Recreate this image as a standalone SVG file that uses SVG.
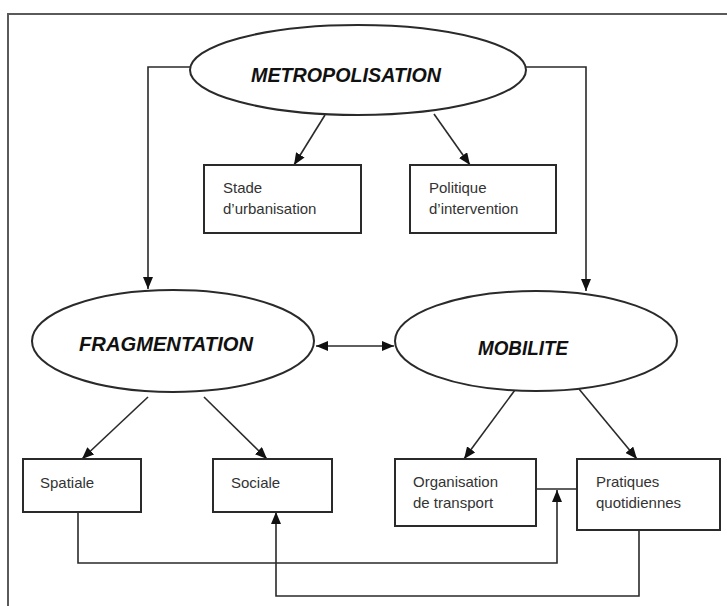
<svg xmlns="http://www.w3.org/2000/svg" width="727" height="606" viewBox="0 0 727 606">
<defs>
<style>
.node{fill:#fff;stroke:#2a2a2a;stroke-width:2}
.lbl{font-family:"Liberation Sans",Arial,sans-serif;font-size:15px;fill:#333}
.big{font-family:"Liberation Sans",Arial,sans-serif;font-size:20px;font-weight:bold;font-style:italic;fill:#111}
.con{fill:none;stroke:#2a2a2a;stroke-width:1.6}
.frame{fill:none;stroke:#5a5a5a;stroke-width:2}
</style>
<marker id="ah" markerUnits="userSpaceOnUse" markerWidth="12" markerHeight="10" refX="12" refY="5" orient="auto-start-reverse">
<path d="M0,0 L12,5 L0,10 z" fill="#111"/>
</marker>
</defs>
<rect width="727" height="606" fill="#fff"/>
<path class="frame" d="M8,606 L8,14 L727,14"/>
<g id="connectors">
<path class="con" d="M190,67 L148,67 L148,289" marker-end="url(#ah)"/>
<path class="con" d="M526,67 L586,67 L586,291" marker-end="url(#ah)"/>
<path class="con" d="M325,115 L294,165" marker-end="url(#ah)"/>
<path class="con" d="M434,114 L470,165" marker-end="url(#ah)"/>
<path class="con" d="M316,346 L394,346" marker-start="url(#ah)" marker-end="url(#ah)"/>
<path class="con" d="M148,397 L82,459" marker-end="url(#ah)"/>
<path class="con" d="M204,397 L267,459" marker-end="url(#ah)"/>
<path class="con" d="M515,390 L464,459" marker-end="url(#ah)"/>
<path class="con" d="M579,389 L637,459" marker-end="url(#ah)"/>
<path class="con" d="M536,489 L577,489"/>
<path class="con" d="M78,512 L78,563 L557,563 L557,490" marker-end="url(#ah)"/>
<path class="con" d="M639,530 L639,596 L276,596 L276,512" marker-end="url(#ah)"/>
</g>
<g id="metropolisation">
<ellipse class="node" cx="358" cy="70" rx="168" ry="45"/>
<text class="big" x="346" y="82" text-anchor="middle" textLength="190" lengthAdjust="spacingAndGlyphs">METROPOLISATION</text>
</g>
<g id="stade">
<rect class="node" x="204" y="165" width="157" height="68"/>
<text class="lbl" x="223" y="193">Stade</text>
<text class="lbl" x="223" y="214">d’urbanisation</text>
</g>
<g id="politique">
<rect class="node" x="410" y="165" width="146" height="68"/>
<text class="lbl" x="429" y="193">Politique</text>
<text class="lbl" x="429" y="214">d’intervention</text>
</g>
<g id="fragmentation">
<ellipse class="node" cx="173" cy="341" rx="141" ry="51"/>
<text class="big" x="166" y="351" text-anchor="middle" textLength="174" lengthAdjust="spacingAndGlyphs">FRAGMENTATION</text>
</g>
<g id="mobilite">
<ellipse class="node" cx="536" cy="341" rx="141" ry="50"/>
<text class="big" x="523" y="355" text-anchor="middle" textLength="90" lengthAdjust="spacingAndGlyphs">MOBILITE</text>
</g>
<g id="spatiale">
<rect class="node" x="23" y="459" width="118" height="53"/>
<text class="lbl" x="40" y="488">Spatiale</text>
</g>
<g id="sociale">
<rect class="node" x="213" y="459" width="119" height="53"/>
<text class="lbl" x="231" y="488">Sociale</text>
</g>
<g id="organisation">
<rect class="node" x="395" y="459" width="141" height="67"/>
<text class="lbl" x="413" y="487">Organisation</text>
<text class="lbl" x="413" y="508">de transport</text>
</g>
<g id="pratiques">
<rect class="node" x="577" y="459" width="143" height="71"/>
<text class="lbl" x="596" y="487">Pratiques</text>
<text class="lbl" x="596" y="508">quotidiennes</text>
</g>
</svg>
